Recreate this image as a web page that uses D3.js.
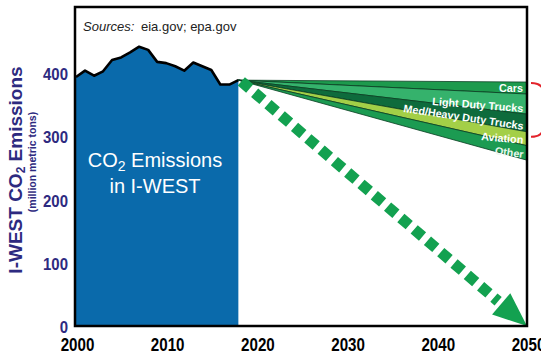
<!DOCTYPE html>
<html>
<head>
<meta charset="utf-8">
<script src="https://cdn.jsdelivr.net/npm/d3@7"></script>
<style>
  body { margin: 0; background: #fff; }
  svg { display: block; font-family: "Liberation Sans", Arial, sans-serif; }
</style>
</head>
<body>
<svg id="chart" width="541" height="354"></svg>
<script>
// Historical I-WEST CO2 emissions (million metric tons)
const histYears = d3.range(2000, 2019);
const histEmissions = [395, 405, 397, 404, 422, 426, 434, 443, 438, 419, 417, 412, 405, 418, 412, 406, 383, 383, 390];

// Transportation wedges: start value in 2018, reference level in 2050 and sector cuts by 2050
const wedgeYears = [2018, 2050];
const wedgeStart = 390;
const wedgeTop2050 = 387;
const sectors = ["Cars", "Light Duty Trucks", "Med/Heavy Duty Trucks", "Aviation", "Other"];
const sectorCuts2050 = [19, 32, 28, 22, 23];

// Net-zero pathway arrow
const pathwayYears = [2018, 2050];
const pathwayValues = [388, 0];

const xTicks = [2000, 2010, 2020, 2030, 2040, 2050];
const yTicks = [0, 100, 200, 300, 400];

// ---- styling ----
const sectorFill = ["#1d9a4d", "#35b26c", "#0e6b3c", "#a3cf47", "#1c9b52"];
const labelTilt = [0, 4.5, 8.5, 5, 8];
const navy = "#2d2a80";

const svg = d3.select("#chart");
const x = d3.scaleLinear().domain([2000, 2050]).range([76, 527]);
const y = d3.scaleLinear().domain([0, 506]).range([326, 7]);

// Historical emissions area with outline
const hist = histYears.map((yr, i) => ({ yr, v: histEmissions[i] }));
svg.append("path")
  .datum(hist)
  .attr("fill", "#0a6aab")
  .attr("d", d3.area().x(d => x(d.yr)).y0(y(0)).y1(d => y(d.v)));
svg.append("path")
  .datum(hist)
  .attr("fill", "none")
  .attr("stroke", "#000")
  .attr("stroke-width", 2.6)
  .attr("stroke-linejoin", "round")
  .attr("d", d3.line().x(d => x(d.yr)).y(d => y(d.v)));

// Wedge boundaries at 2050, stacked downward from the reference level
const bounds = [wedgeTop2050];
sectorCuts2050.forEach(c => bounds.push(bounds[bounds.length - 1] - c));

const x0 = x(wedgeYears[0]), x1 = x(wedgeYears[1]);
const wedges = svg.append("g");
sectors.forEach((name, i) => {
  const pts = [[x0, y(wedgeStart)], [x1, y(bounds[i])], [x1, y(bounds[i + 1])]];
  wedges.append("path")
    .attr("d", d3.line()(pts) + "Z")
    .attr("fill", sectorFill[i])
    .attr("stroke", "#0a3f22")
    .attr("stroke-width", 0.8)
    .attr("stroke-linejoin", "round");
});
sectors.forEach((name, i) => {
  const ax = x1 - 4, ay = y(bounds[i + 1]) - 2;
  wedges.append("text")
    .attr("transform", `translate(${ax},${ay}) rotate(${labelTilt[i]})`)
    .attr("text-anchor", "end")
    .attr("font-size", 10.8)
    .attr("font-weight", "bold")
    .attr("fill", i === 4 ? "#e9f7ee" : "#fff")
    .text(name);
});

// Dashed pathway arrow towards zero in 2050
const p0 = [x(pathwayYears[0]) + 3, y(pathwayValues[0])];
const p1 = [x(pathwayYears[1]), y(pathwayValues[1])];
const dx = p1[0] - p0[0], dy = p1[1] - p0[1];
const len = Math.hypot(dx, dy);
const ux = dx / len, uy = dy / len;
const headLen = 34, headHalf = 14;
const base = [p1[0] - ux * headLen, p1[1] - uy * headLen];
svg.append("line")
  .attr("x1", p0[0]).attr("y1", p0[1])
  .attr("x2", base[0] - ux * 4).attr("y2", base[1] - uy * 4)
  .attr("stroke", "#13a150")
  .attr("stroke-width", 11)
  .attr("stroke-dasharray", "11 6.5");
svg.append("path")
  .attr("fill", "#13a150")
  .attr("d", d3.line()([
    [base[0] - uy * headHalf, base[1] + ux * headHalf],
    [base[0] + uy * headHalf, base[1] - ux * headHalf],
    p1
  ]) + "Z");

// Plot frame
svg.append("rect")
  .attr("x", x(2000) - 1).attr("y", y(506))
  .attr("width", x(2050) - x(2000) + 1).attr("height", y(0) - y(506))
  .attr("fill", "none")
  .attr("stroke", "#000")
  .attr("stroke-width", 2.5);

// Axes
const xAxis = svg.append("g")
  .attr("transform", `translate(0,${y(0)})`)
  .call(d3.axisBottom(x).tickValues(xTicks).tickSize(0).tickFormat(d3.format("d")));
xAxis.select(".domain").remove();
xAxis.selectAll("text")
  .attr("y", 0).attr("dy", 0)
  .attr("transform", "translate(1,24.5) scale(0.82,1)")
  .attr("font-family", "'Liberation Sans', Arial, sans-serif")
  .attr("font-size", 18.5)
  .attr("font-weight", "bold")
  .attr("fill", "#000");

const yAxis = svg.append("g")
  .attr("transform", `translate(${x(2000) - 1},0)`)
  .call(d3.axisLeft(y).tickValues(yTicks).tickSize(0));
yAxis.select(".domain").remove();
yAxis.selectAll("text")
  .attr("x", 0).attr("dy", "0.36em")
  .attr("transform", "translate(-7,0) scale(0.88,1)")
  .attr("font-family", "'Liberation Sans', Arial, sans-serif")
  .attr("font-size", 17)
  .attr("font-weight", "bold")
  .attr("fill", navy);

// Axis title
const yt = svg.append("text")
  .attr("transform", "translate(22,170) rotate(-90)")
  .attr("text-anchor", "middle")
  .attr("font-size", 19)
  .attr("font-weight", "bold")
  .attr("fill", navy);
yt.append("tspan").text("I-WEST CO");
yt.append("tspan").attr("font-size", 12).attr("dy", 3).text("2");
yt.append("tspan").attr("dy", -3).text(" Emissions");

svg.append("text")
  .attr("transform", "translate(36,162) rotate(-90)")
  .attr("text-anchor", "middle")
  .attr("font-size", 10.5)
  .attr("font-weight", "bold")
  .attr("fill", navy)
  .text("(million metric tons)");

// Sources note
const src = svg.append("text").attr("y", 31).attr("font-size", 13).attr("fill", "#222");
src.append("tspan").attr("x", 83).attr("font-style", "italic").text("Sources:");
src.append("tspan").attr("x", 141).text("eia.gov; epa.gov");

// Label inside the historical area
const lab = svg.append("text")
  .attr("x", 155).attr("y", 167)
  .attr("text-anchor", "middle")
  .attr("font-size", 20)
  .attr("fill", "#fff");
lab.append("tspan").text("CO");
lab.append("tspan").attr("font-size", 14).attr("dy", 4).text("2");
lab.append("tspan").attr("dy", -4).text(" Emissions");
svg.append("text")
  .attr("x", 155).attr("y", 193)
  .attr("text-anchor", "middle")
  .attr("font-size", 20)
  .attr("fill", "#fff")
  .text("in I-WEST");

// Bracket grouping the vehicle sectors
const bt = y(wedgeTop2050) + 1, bb = y(bounds[3]) + 5;
svg.append("path")
  .attr("d", `M531,${bt} C538,${bt} 544,${bt + 3} 544,${bt + 12} L544,${bb - 12} C544,${bb - 3} 538,${bb} 531,${bb}`)
  .attr("fill", "none")
  .attr("stroke", "#e3232b")
  .attr("stroke-width", 2);
</script>
</body>
</html>
